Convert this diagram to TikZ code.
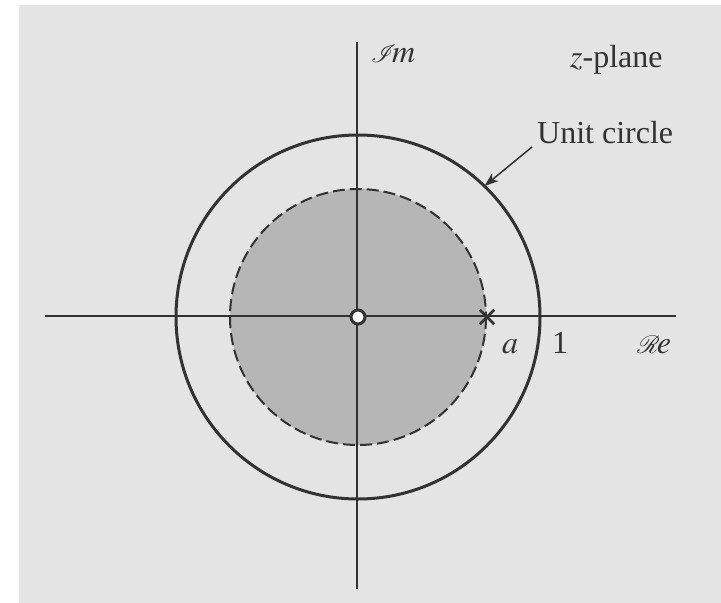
\documentclass[tikz,border=0pt]{standalone}
\usepackage{mathptmx}
\usepackage{mathrsfs}
\usepackage{fontspec}
\setmainfont{Liberation Serif}
\usetikzlibrary{arrows.meta,calc}
\definecolor{paper}{RGB}{228,228,228}
\definecolor{ink}{RGB}{50,50,50}
\definecolor{regiongray}{RGB}{182,182,182}
\newcommand{\bigscr}[1]{{\fontsize{37}{40}\selectfont$\mathscr{#1}$}}
\tikzset{
  axisline/.style={draw=ink, line width=2pt},
  lbl/.style={text=ink, inner sep=0pt, anchor=base west, font=\fontsize{32}{38}\selectfont},
}
\begin{document}
\begin{tikzpicture}[x=1pt,y=-1pt]
\useasboundingbox (0,0) rectangle (721,603);
\fill[white] (0,0) rectangle (721,603);
\fill[paper] (19,5) rectangle (721,603);
\coordinate (O) at (358,317);
% shaded region
\fill[regiongray] (O) circle[radius=128];
\draw[ink, line width=2pt, dash pattern=on 12pt off 5pt] (O) circle[radius=128];
% unit circle
\draw[ink, line width=3pt] (O) circle[radius=182];
% axes
\coordinate (xl) at (45,316);
\coordinate (xr) at (676,316);
\coordinate (yt) at (357,42);
\coordinate (yb) at (357,589);
\draw[axisline] (xl) -- (xr);
\draw[axisline] (yt) -- (yb);
% zero at origin
\node[circle, draw=ink, line width=3pt, fill=white, minimum size=14pt, inner sep=0pt] (zero) at (O) {};
% pole at a
\node[inner sep=0pt, minimum size=14pt] (pole) at (487,317) {};
\draw[ink, line width=2.5pt] (pole.north west) -- (pole.south east);
\draw[ink, line width=2.5pt] (pole.north east) -- (pole.south west);
% labels
\node[lbl] (im) at (371,62) {\bigscr{I}\kern-4pt$m$};
\node[lbl] (zp) at (570,67) {$z$-plane};
\node[lbl] (uc) at (537,143) {Unit circle};
\node[lbl] (la) at (502,353) {$a$};
\node[lbl] (one) at (552,353) {1};
\node[lbl] (re) at (637,353) {\bigscr{R}\kern-3pt$e$};
% arrow
\coordinate (arrs) at (532,147);
\coordinate (arre) at ($(O)+(-46:182)$);
\draw[ink, line width=1.5pt, -{Stealth[length=14pt, width=10pt, inset=4pt]}] (arrs) -- (arre);
\end{tikzpicture}
\end{document}
